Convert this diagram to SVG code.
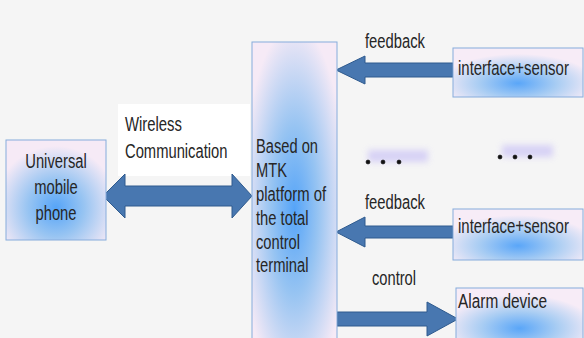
<svg xmlns="http://www.w3.org/2000/svg" width="584" height="338" viewBox="0 0 584 338">
<defs>
<radialGradient id="gBox" cx="0.5" cy="0.56" r="0.62">
<stop offset="0" stop-color="#55a4f8"/>
<stop offset="0.45" stop-color="#97c4f2"/>
<stop offset="1" stop-color="#f6eaf6"/>
</radialGradient>
<radialGradient id="gPhone" cx="0.5" cy="0.68" r="0.62">
<stop offset="0" stop-color="#55a4f8"/>
<stop offset="0.45" stop-color="#97c4f2"/>
<stop offset="1" stop-color="#f6eaf6"/>
</radialGradient>
<radialGradient id="gSmall" cx="0.5" cy="0.72" r="0.6">
<stop offset="0" stop-color="#5aa6f8"/>
<stop offset="0.5" stop-color="#a9cdf3"/>
<stop offset="1" stop-color="#f7ecf7"/>
</radialGradient>
<filter id="blur" x="-30%" y="-60%" width="160%" height="220%"><feGaussianBlur stdDeviation="3"/></filter>
</defs>
<style>
.bg{fill:#f5f5f5}
.box{stroke:#86acdc;stroke-width:1}
.arrow{fill:#4877b0;stroke:#2e5a8e;stroke-width:1;stroke-linejoin:miter}
.t{font-family:"Liberation Sans Narrow","Liberation Sans",Arial,sans-serif;font-size:19.5px;fill:#262626}
.dot{fill:#111;stroke:#111;stroke-width:0.6}
.haze{fill:#cdc6f6;opacity:0.75}
</style>
<rect class="bg" x="0" y="0" width="584" height="338"/>
<rect x="118" y="104" width="132" height="72" fill="#ffffff"/>

<g id="connectors">
<polygon class="arrow" points="103,196 125,174 125,186 232,186 232,174 252,196 232,218 232,206 125,206 125,218"/>
<polygon class="arrow" points="336,70 365,56 365,63 453,63 453,77 365,77 365,84"/>
<polygon class="arrow" points="336,232 365,217 365,226 453,226 453,238 365,238 365,247"/>
<polygon class="arrow" points="337,312 427,312 427,302 458,319 427,336 427,326 337,326"/>
</g>

<g id="phone">
<rect class="box" x="6" y="140" width="100" height="100" fill="url(#gPhone)"/>
<text class="t" x="56" y="168" text-anchor="middle" textLength="61.5" lengthAdjust="spacingAndGlyphs">Universal</text>
<text class="t" x="56" y="194" text-anchor="middle" textLength="43.5" lengthAdjust="spacingAndGlyphs">mobile</text>
<text class="t" x="56" y="220" text-anchor="middle" textLength="41" lengthAdjust="spacingAndGlyphs">phone</text>
</g>

<g id="wireless-label">
<text class="t" x="125" y="131" textLength="57" lengthAdjust="spacingAndGlyphs">Wireless</text>
<text class="t" x="125" y="158" textLength="102.5" lengthAdjust="spacingAndGlyphs">Communication</text>
</g>

<g id="terminal">
<rect class="box" x="252" y="42" width="85" height="300" fill="url(#gBox)"/>
<text class="t" x="256" y="153" textLength="62" lengthAdjust="spacingAndGlyphs">Based on</text>
<text class="t" x="256" y="177" textLength="31" lengthAdjust="spacingAndGlyphs">MTK</text>
<text class="t" x="256" y="201" textLength="70" lengthAdjust="spacingAndGlyphs">platform of</text>
<text class="t" x="256" y="225" textLength="52.5" lengthAdjust="spacingAndGlyphs">the total</text>
<text class="t" x="256" y="249" textLength="44" lengthAdjust="spacingAndGlyphs">control</text>
<text class="t" x="256" y="272" textLength="52.5" lengthAdjust="spacingAndGlyphs">terminal</text>
</g>

<g id="sensor1">
<rect class="box" x="453" y="48" width="130" height="49" fill="url(#gSmall)"/>
<text class="t" transform="translate(458,75) scale(0.767,1)">interface+sensor</text>
</g>

<g id="sensor2">
<rect class="box" x="453" y="209" width="130" height="51" fill="url(#gSmall)"/>
<text class="t" transform="translate(458,233) scale(0.767,1)">interface+sensor</text>
</g>

<g id="alarm">
<rect class="box" x="456" y="288" width="127" height="56" fill="url(#gSmall)"/>
<text class="t" x="458" y="308" textLength="89" lengthAdjust="spacingAndGlyphs">Alarm device</text>
</g>

<g id="labels">
<text class="t" x="365" y="48" textLength="60" lengthAdjust="spacingAndGlyphs">feedback</text>
<text class="t" x="365" y="209" textLength="60" lengthAdjust="spacingAndGlyphs">feedback</text>
<text class="t" x="372" y="285" textLength="44" lengthAdjust="spacingAndGlyphs">control</text>
</g>

<g id="ellipsis1">
<rect class="haze" x="368" y="150" width="60" height="12" filter="url(#blur)"/>
<circle class="dot" cx="368" cy="162" r="2"/>
<circle class="dot" cx="383" cy="162" r="2"/>
<circle class="dot" cx="399" cy="162" r="2"/>
</g>
<g id="ellipsis2">
<rect class="haze" x="502" y="145" width="51" height="12" filter="url(#blur)"/>
<circle class="dot" cx="500" cy="157" r="2"/>
<circle class="dot" cx="515" cy="157" r="2"/>
<circle class="dot" cx="530" cy="157" r="2"/>
</g>
</svg>
